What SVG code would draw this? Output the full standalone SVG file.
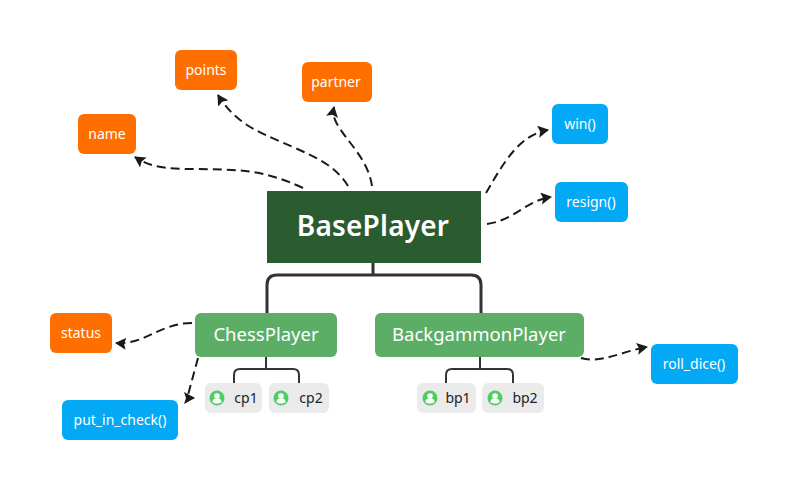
<svg xmlns="http://www.w3.org/2000/svg" width="788" height="490" viewBox="0 0 788 490">
<style>
text{font-family:"Noto Sans","Open Sans",sans-serif;text-anchor:middle}
.o{fill:#ff6f00}.b{fill:#03a9f4}.g{fill:#5cae66}.c{fill:#ebebeb}
.t{fill:#fff;font-size:14px}.m{fill:#fff;font-size:18.500px}.d{fill:#222;font-size:14px}
.tree{fill:none;stroke:#333;stroke-width:3}.tree2{fill:none;stroke:#333;stroke-width:2}
.dash{fill:none;stroke:#1a1a1a;stroke-width:2;stroke-dasharray:9 5;marker-end:url(#a)}
</style>
<defs>
<marker id="a" markerUnits="userSpaceOnUse" markerWidth="14" markerHeight="14" refX="10" refY="6" orient="auto"><path d="M0 0L11 6L0 12L2 6Z" fill="#1a1a1a"/></marker>
<g id="u"><circle r="7.500" fill="#4fce60"/><circle cy="-2" r="2.800" fill="#fff"/><path d="M-4.600 4.200C-4.400 .8-2 .6 0 .6S4.400 .8 4.600 4.200C2 6 -2 6 -4.600 4.200Z" fill="#fff"/></g>
</defs>
<g id="connectors">
<path class="tree" d="M373 263V275M267 313V285Q267 275 277 275H471Q481 275 481 285V313"/>
<path class="tree2" d="M266 357V369M234 383V375Q234 369 240 369H293Q299 369 299 375V383"/>
<path class="tree2" d="M480 357V369M446 383V375Q446 369 452 369H507Q513 369 513 375V383"/>
<path class="dash" d="M303 188C260 168 235 170 195 169C165 169 150 167 135 157"/>
<path class="dash" d="M348 186C335 165 315 157 293 147C270 137 258 132 247 125C235 117 226 108 218 95"/>
<path class="dash" d="M372 186C368 158 345 140 336 122C333 116 333 112 334 107"/>
<path class="dash" d="M486 193C505 160 520 135 548 130"/>
<path class="dash" d="M487 224C515 220 525 201 551 197"/>
<path class="dash" d="M192 323C160 323 145 345 116 343"/>
<path class="dash" d="M198 358L188 395Q187 398 194 398"/>
<path class="dash" d="M581 358C600 364 620 352 647 347"/>
</g>
<g id="name"><rect class="o" x="78" y="114" width="58" height="40" rx="6"/><text class="t" x="107" y="139">name</text></g>
<g id="points"><rect class="o" x="175" y="50" width="62" height="40" rx="6"/><text class="t" x="206" y="75">points</text></g>
<g id="partner"><rect class="o" x="302" y="62" width="70" height="40" rx="6"/><text class="t" x="336" y="87">partner</text></g>
<g id="win"><rect class="b" x="552" y="104" width="56" height="40" rx="6"/><text class="t" x="580" y="129">win()</text></g>
<g id="resign"><rect class="b" x="555" y="182" width="73" height="40" rx="6"/><text class="t" x="591" y="207">resign()</text></g>
<g id="BasePlayer"><rect x="267" y="191" width="214" height="72" fill="#2b5c30"/><text x="373" y="236" fill="#fff" font-size="28" font-weight="600" letter-spacing=".2">BasePlayer</text></g>
<g id="status"><rect class="o" x="50" y="313" width="62" height="40" rx="6"/><text class="t" x="81" y="338">status</text></g>
<g id="ChessPlayer"><rect class="g" x="195" y="313" width="142" height="44" rx="6"/><text class="m" x="266" y="341">ChessPlayer</text></g>
<g id="BackgammonPlayer"><rect class="g" x="375" y="313" width="209" height="44" rx="6"/><text class="m" x="479" y="341">BackgammonPlayer</text></g>
<g id="put_in_check"><rect class="b" x="62" y="400" width="116" height="40" rx="6"/><text class="t" x="120" y="425">put_in_check()</text></g>
<g id="roll_dice"><rect class="b" x="651" y="344" width="87" height="40" rx="6"/><text class="t" x="694" y="369">roll_dice()</text></g>
<g id="cp1"><rect class="c" x="205" y="383" width="57" height="30" rx="6"/><use href="#u" x="217" y="398"/><text class="d" x="246" y="403">cp1</text></g>
<g id="cp2"><rect class="c" x="269" y="383" width="60" height="30" rx="6"/><use href="#u" x="281" y="398"/><text class="d" x="311" y="403">cp2</text></g>
<g id="bp1"><rect class="c" x="417" y="383" width="59" height="30" rx="6"/><use href="#u" x="430" y="398"/><text class="d" x="458" y="403">bp1</text></g>
<g id="bp2"><rect class="c" x="482" y="383" width="62" height="30" rx="6"/><use href="#u" x="495" y="398"/><text class="d" x="525" y="403">bp2</text></g>
</svg>
